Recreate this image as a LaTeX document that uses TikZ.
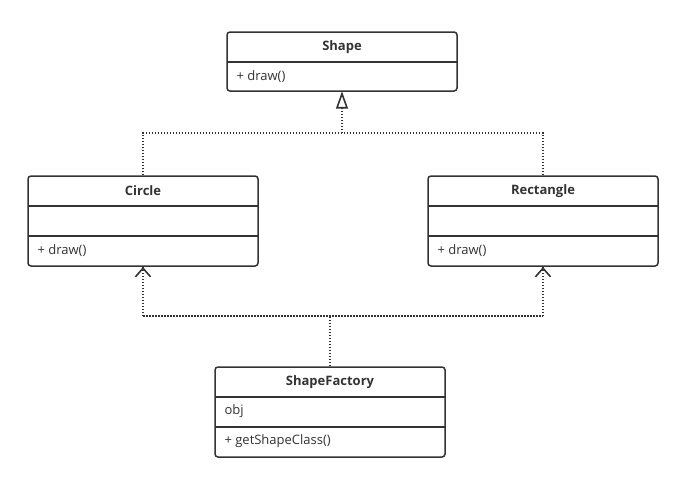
\documentclass[tikz,border=0pt]{standalone}
\usepackage{fontspec}
\setmainfont{Open Sans}
\definecolor{ln}{HTML}{333333}
\begin{document}
\begin{tikzpicture}[x=1pt,y=-1pt,
  cls/.style={draw=ln,line width=1.5pt,rounded corners=3pt,minimum width=230pt,inner sep=0pt,fill=white},
  divl/.style={draw=ln,line width=1.2pt},
  ttl/.style={font=\fontsize{13}{15}\selectfont\bfseries,text=ln,anchor=center},
  mem/.style={font=\fontsize{13}{15}\selectfont,text=ln,anchor=west},
  dep/.style={draw=ln,line width=1.5pt,dash pattern=on 1.5pt off 1.5pt},
  tip/.style={draw=ln,line width=1.6pt,solid,line join=miter},
]
\useasboundingbox (0,0) rectangle (681,485);
% classes
\node[cls,minimum height=59pt] (shape) at (342,61.5) {};
\draw[divl] (227,62) -- (457,62);
\node[ttl] (shapeT) at (342,47) {Shape};
\node[mem] (shapeM) at (233,76.5) {+ draw()};

\node[cls,minimum height=90pt] (circle) at (143,221) {};
\draw[divl] (28,206) -- (258,206);
\draw[divl] (28,236) -- (258,236);
\node[ttl] (circleT) at (143,191) {Circle};
\node[mem] (circleM) at (34,250.5) {+ draw()};

\node[cls,minimum height=90pt] (rect) at (543,221) {};
\draw[divl] (428,206) -- (658,206);
\draw[divl] (428,236) -- (658,236);
\node[ttl] (rectT) at (543,191) {Rectangle};
\node[mem] (rectM) at (434,250.5) {+ draw()};

\node[cls,minimum height=90pt] (fac) at (330,412) {};
\draw[divl] (215,397) -- (445,397);
\draw[divl] (215,427) -- (445,427);
\node[ttl] (facT) at (330,382) {ShapeFactory};
\node[mem] (facA) at (221,411.5) {obj};
\node[mem] (facM) at (221,441.5) {+ getShapeClass()};

% connectors (top: realization)
\coordinate (jT) at (342,133);
\coordinate (jTL) at (143,133);
\coordinate (jTR) at (543,133);
\coordinate (tS) at (342,107);
\draw[dep] (circle.north) -- (jTL) -- (jTR) -- (rect.north);
\draw[dep] (jT) -- (tS);
\draw[tip,fill=white] (shape.south) ++(0,2) -- ++(-5,14) -- ++(10,0) -- cycle;

% connectors (bottom: dependency)
\coordinate (jB) at (330,316);
\coordinate (jBL) at (143,316);
\coordinate (jBR) at (543,316);
\draw[dep] (jBL) -- (jBR);
\draw[dep] (jBL) -- (circle.south);
\draw[dep] (jBR) -- (rect.south);
\draw[dep] (fac.north) -- (jB);
\draw[tip] (circle.south) ++(-7.5,10) -- ++(7.5,-8.5) -- ++(7.5,8.5);
\draw[tip] (rect.south) ++(-7.5,10) -- ++(7.5,-8.5) -- ++(7.5,8.5);
\end{tikzpicture}
\end{document}
